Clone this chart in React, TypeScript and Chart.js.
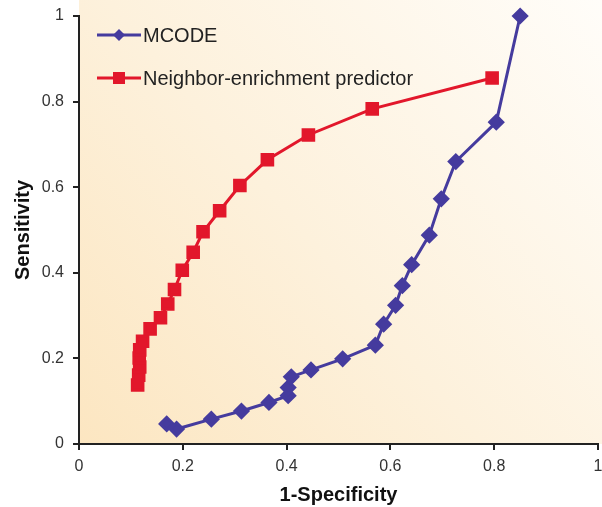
import React, { useEffect, useRef } from "react";
import { Chart, registerables } from "chart.js";

Chart.register(...registerables);

const mcodeX = [0.169, 0.188, 0.255, 0.313, 0.366, 0.403, 0.403, 0.409, 0.447, 0.508, 0.571, 0.587, 0.610, 0.623, 0.641, 0.675, 0.698, 0.726, 0.804, 0.850];
const mcodeY = [0.047, 0.035, 0.058, 0.077, 0.097, 0.113, 0.132, 0.157, 0.173, 0.199, 0.231, 0.280, 0.324, 0.370, 0.419, 0.488, 0.573, 0.660, 0.752, 1.0];

const neX = [0.113, 0.115, 0.117, 0.116, 0.117, 0.1225, 0.137, 0.157, 0.171, 0.184, 0.199, 0.220, 0.239, 0.271, 0.310, 0.363, 0.442, 0.565, 0.796];
const neY = [0.138, 0.161, 0.180, 0.201, 0.220, 0.240, 0.269, 0.295, 0.327, 0.361, 0.406, 0.448, 0.496, 0.545, 0.604, 0.664, 0.722, 0.783, 0.855];

const xTicks = [0, 0.2, 0.4, 0.6, 0.8, 1];
const yTicks = [0, 0.2, 0.4, 0.6, 0.8, 1];

const seriesNames = ["MCODE", "Neighbor-enrichment predictor"];
const BLUE = "#453b9e";
const RED = "#e2172b";
const FONT = "'Liberation Sans', Arial, sans-serif";

const bgPlugin = {
  id: "bgPlugin",
  beforeDraw(chart: any) {
    const { ctx, chartArea } = chart;
    const x0 = chartArea.left;
    const x1 = chart.width;
    const y0 = 0;
    const y1 = chartArea.bottom;
    const g = ctx.createLinearGradient(x0, y1, x1, y0);
    g.addColorStop(0, "#fce6c1");
    g.addColorStop(0.45, "#fdf1dc");
    g.addColorStop(1, "#fffdf9");
    ctx.save();
    ctx.fillStyle = g;
    ctx.fillRect(x0, y0, x1 - x0, y1 - y0);
    ctx.restore();
  },
};

const legendPlugin = {
  id: "customLegend",
  afterDatasetsDraw(chart: any) {
    const { ctx } = chart;
    const rows = [35, 78];
    chart.data.datasets.forEach((ds: any, i: number) => {
      const y = rows[i];
      ctx.save();
      ctx.strokeStyle = ds.borderColor;
      ctx.lineWidth = 3;
      ctx.beginPath();
      ctx.moveTo(97, y);
      ctx.lineTo(141, y);
      ctx.stroke();
      ctx.fillStyle = ds.pointBackgroundColor;
      if (i === 0) {
        ctx.beginPath();
        ctx.moveTo(119, y - 6);
        ctx.lineTo(125, y);
        ctx.lineTo(119, y + 6);
        ctx.lineTo(113, y);
        ctx.closePath();
        ctx.fill();
      } else {
        ctx.fillRect(113, y - 6, 12, 12);
      }
      ctx.fillStyle = "#222";
      ctx.font = "20px " + FONT;
      ctx.textBaseline = "middle";
      ctx.fillText(ds.label, 143, y + 1);
      ctx.restore();
    });
  },
};

export default function App() {
  const ref = useRef<HTMLCanvasElement | null>(null);
  useEffect(() => {
    if (!ref.current) return;
    const chart = new Chart(ref.current, {
      type: "line",
      data: {
        datasets: [
          {
            label: seriesNames[0],
            data: mcodeX.map((x, i) => ({ x, y: mcodeY[i] })),
            borderColor: BLUE,
            backgroundColor: BLUE,
            pointBackgroundColor: BLUE,
            pointBorderColor: BLUE,
            pointStyle: "rectRot",
            pointRadius: 6.5,
            borderWidth: 3,
            tension: 0,
            clip: false,
          },
          {
            label: seriesNames[1],
            data: neX.map((x, i) => ({ x, y: neY[i] })),
            borderColor: RED,
            backgroundColor: RED,
            pointBackgroundColor: RED,
            pointBorderColor: RED,
            pointStyle: "rect",
            pointRadius: 7.5,
            borderWidth: 3,
            tension: 0,
            clip: false,
          },
        ],
      },
      options: {
        animation: false,
        responsive: false,
        maintainAspectRatio: false,
        layout: { autoPadding: false, padding: { left: 0, right: 4, top: 16, bottom: 0 } },
        plugins: {
          legend: { display: false },
          tooltip: { enabled: false },
        },
        scales: {
          x: {
            type: "linear",
            min: 0,
            max: 1,
            afterFit(scale: any) {
              scale.height = 63;
              scale.paddingRight = 0;
              scale.paddingLeft = 0;
            },
            afterBuildTicks(scale: any) {
              scale.ticks = xTicks.map((v) => ({ value: v }));
            },
            ticks: {
              color: "#333",
              font: { size: 16, family: FONT },
              padding: 7,
              maxRotation: 0,
              autoSkip: false,
              callback: (v: any) => String(v),
            },
            grid: {
              drawOnChartArea: false,
              drawTicks: true,
              tickLength: 6,
              color: "#222",
              lineWidth: 2,
            },
            border: { display: true, color: "#222", width: 2 },
            title: {
              display: true,
              text: "1-Specificity",
              color: "#111",
              font: { size: 20, weight: "bold", family: FONT },
              padding: { top: 1, bottom: 0 },
            },
          },
          y: {
            type: "linear",
            min: 0,
            max: 1,
            afterFit(scale: any) {
              scale.width = 79;
              scale.paddingTop = 0;
              scale.paddingBottom = 0;
            },
            afterBuildTicks(scale: any) {
              scale.ticks = yTicks.map((v) => ({ value: v }));
            },
            ticks: {
              color: "#333",
              font: { size: 16, family: FONT },
              padding: 9,
              autoSkip: false,
              callback: (v: any) => String(v),
            },
            grid: {
              drawOnChartArea: false,
              drawTicks: true,
              tickLength: 6,
              color: "#222",
              lineWidth: 2,
            },
            border: { display: true, color: "#222", width: 2 },
            title: {
              display: true,
              text: "Sensitivity",
              color: "#111",
              font: { size: 20, weight: "bold", family: FONT },
              padding: { top: 11, bottom: 0 },
            },
          },
        },
      },
      plugins: [bgPlugin, legendPlugin],
    });
    return () => chart.destroy();
  }, []);
  return (
    <div style={{ position: "fixed", left: 0, top: 0, width: 602, height: 507, background: "#fff" }}>
      <canvas ref={ref} width={602} height={507} style={{ display: "block" }} />
    </div>
  );
}
